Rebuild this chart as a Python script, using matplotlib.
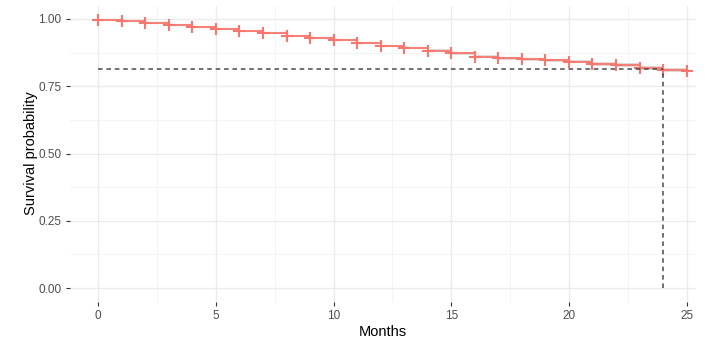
import matplotlib
matplotlib.use("Agg")
import matplotlib.pyplot as plt
import numpy as np

# Kaplan-Meier estimate (one censor mark per month)
months = list(range(26))
surv = [0.997, 0.993, 0.986, 0.978, 0.969, 0.963, 0.955, 0.947, 0.938, 0.928,
        0.922, 0.910, 0.900, 0.891, 0.882, 0.872, 0.860, 0.854, 0.850, 0.846,
        0.841, 0.833, 0.829, 0.817, 0.810, 0.808]
lower = [0.996, 0.992, 0.985, 0.976, 0.967, 0.961, 0.953, 0.945, 0.935, 0.925,
         0.918, 0.906, 0.896, 0.887, 0.877, 0.867, 0.855, 0.849, 0.844, 0.840,
         0.835, 0.827, 0.822, 0.810, 0.803, 0.801]
upper = [0.998, 0.994, 0.987, 0.980, 0.971, 0.965, 0.957, 0.949, 0.941, 0.931,
         0.926, 0.914, 0.904, 0.895, 0.887, 0.877, 0.865, 0.859, 0.856, 0.852,
         0.847, 0.839, 0.836, 0.824, 0.817, 0.815]

ref_time = 24
ref_surv = 0.814

xticks = [0, 5, 10, 15, 20, 25]
yticks = [0.0, 0.25, 0.5, 0.75, 1.0]

red = "#F8766D"
plt.rcParams["font.family"] = ["Liberation Sans", "DejaVu Sans"]

fig = plt.figure(figsize=(7.09, 3.40), dpi=100)
ax = fig.add_axes([70 / 709, 38.5 / 340, 626 / 709, 296 / 340])

# grid, ggplot minimal style
for x in np.arange(2.5, 25, 5):
    ax.axvline(x, color="#F3F3F3", lw=0.6, zorder=0)
for y in [0.125, 0.375, 0.625, 0.875]:
    ax.axhline(y, color="#F3F3F3", lw=0.6, zorder=0)
for x in xticks:
    ax.axvline(x, color="#EBEBEB", lw=1.0, zorder=0)
for y in yticks:
    ax.axhline(y, color="#EBEBEB", lw=1.0, zorder=0)

ax.fill_between(months, lower, upper, step="post", color="#BEBEBE",
                alpha=0.5, lw=0, zorder=1)
ax.step(months, surv, where="post", color=red, lw=1.5, alpha=0.9, zorder=2)
ax.plot(months, surv, ls="none", marker="+", ms=8, mew=1.5, color=red, zorder=3)

ax.plot([0, ref_time], [ref_surv, ref_surv], ls=(0, (3, 2.5)), color="#4A4A4A",
        lw=1.1, zorder=4)
ax.plot([ref_time, ref_time], [0, ref_surv], ls=(0, (3, 2.5)), color="#4A4A4A",
        lw=1.1, zorder=4)

ax.set_xlim(-1.2, 25.4)
ax.set_ylim(-0.05, 1.05)
ax.set_xticks(xticks)
ax.set_xticklabels([str(v) for v in xticks])
ax.set_yticks(yticks)
ax.set_yticklabels(["%.2f" % v for v in yticks])
ax.tick_params(axis="both", length=3, width=0.8, color="#333333",
               labelcolor="#4D4D4D", labelsize=8.5, pad=3)
for s in ax.spines.values():
    s.set_visible(False)

ax.set_xlabel("Months", fontsize=10.5, color="black", labelpad=2)
ax.set_ylabel("Survival probability", fontsize=10.5, color="black", labelpad=0.5)

fig.savefig("out.png", dpi=100)
